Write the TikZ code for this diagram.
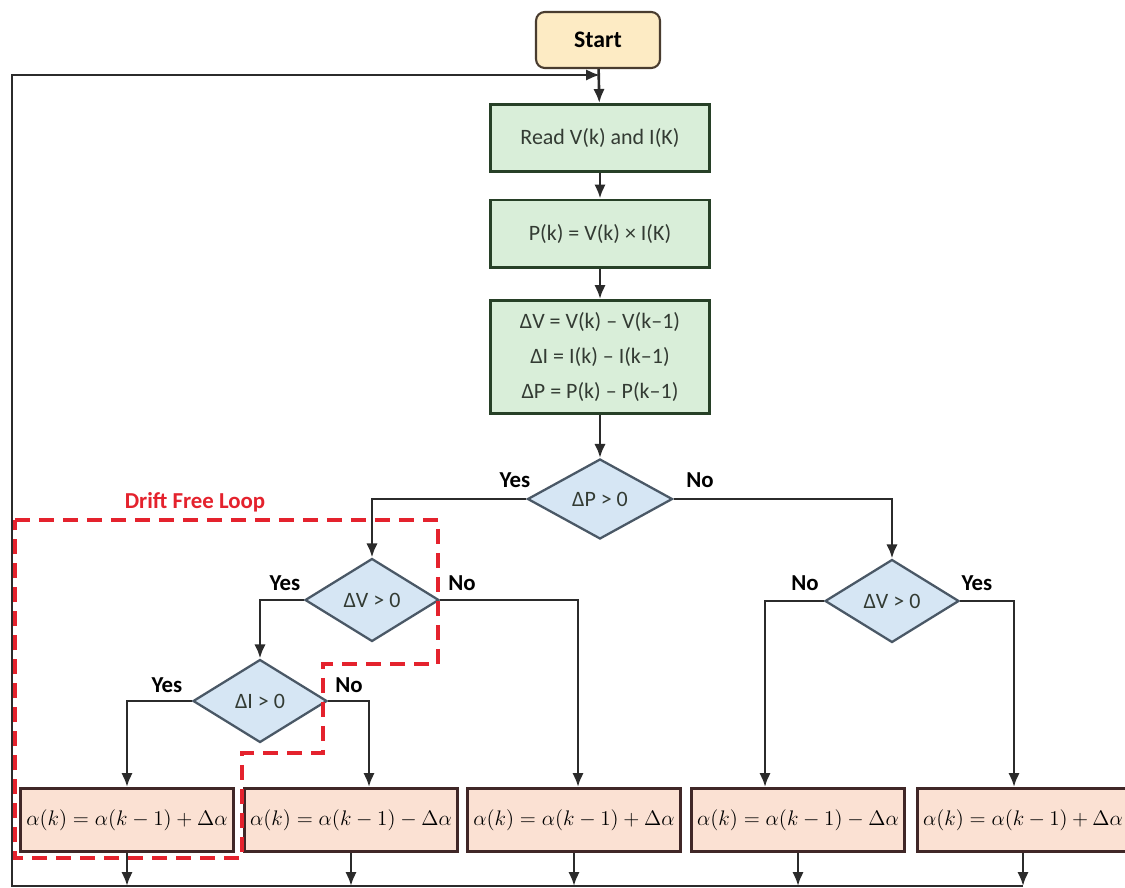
\documentclass[tikz,border=0pt]{standalone}
\usepackage{fontspec}
\setmainfont{Carlito}
\usepackage{tikz}
\usetikzlibrary{calc,arrows.meta,shapes.geometric}
\definecolor{startfill}{HTML}{FDEBC4}
\definecolor{greenfill}{HTML}{D9EED9}
\definecolor{bluefill}{HTML}{D6E6F4}
\definecolor{peachfill}{HTML}{FBE1D3}
\definecolor{driftred}{HTML}{E4222D}
\definecolor{linegray}{HTML}{2B2B2B}
\definecolor{diagray}{HTML}{4A5866}
\definecolor{txtgray}{HTML}{333B33}
\tikzset{
  flow/.style={draw=linegray,line width=1.5pt,-{Latex[length=2.8mm,width=2.3mm]}},
  startbox/.style={draw=linegray!80!brown,line width=1.2pt,rounded corners=5pt,fill=startfill,
    minimum width=2.48cm,minimum height=1.12cm,font=\fontsize{13.5}{16}\selectfont\bfseries},
  greenbox/.style={draw=linegray!90!green,line width=1.7pt,fill=greenfill,text=txtgray,
    minimum width=4.4cm,font=\fontsize{12.5}{20}\selectfont,align=center},
  decision/.style={diamond,draw=diagray,line width=1.3pt,fill=bluefill,inner sep=0pt,
    text=txtgray,minimum width=2.68cm,minimum height=1.66cm,font=\fontsize{12.5}{15}\selectfont},
  alphabox/.style={draw=linegray!90!red,line width=1.7pt,fill=peachfill,
    minimum width=4.24cm,minimum height=1.26cm,font=\fontsize{11.5}{14}\selectfont},
  lbl/.style={font=\fontsize{13}{15}\selectfont\bfseries},
  drift/.style={draw=driftred,line width=2pt,dash pattern=on 0.3cm off 0.18cm}
}

\begin{document}
\begin{tikzpicture}[x=0.02cm,y=-0.02cm]
  \useasboundingbox (0,0) rectangle (1125,888);
  % main column
  \node[startbox] (start) at (598,40) {Start};
  \node[greenbox,minimum height=1.34cm] (read) at (600,138) {Read V(k) and I(K)};
  \node[greenbox,minimum height=1.36cm] (power) at (600,234) {P(k) = V(k) × I(K)};
  \node[greenbox,minimum height=2.26cm] (delta) at (600,357)
    {ΔV = V(k) – V(k–1)\\ ΔI = I(k) – I(k–1)\\ ΔP = P(k) – P(k–1)};
  \coordinate (join) at (600,75);
  \draw[flow] (start) -- (read);
  \draw[flow] (read) -- (power);
  \draw[flow] (power) -- (delta);
  % decisions
  \node[decision,minimum width=2.9cm,minimum height=1.6cm] (dP) at (600,499) {ΔP > 0};
  \node[decision] (dV1) at (372,600) {ΔV > 0};
  \node[decision] (dI) at (260,701) {ΔI > 0};
  \node[decision] (dV2) at (892,601) {ΔV > 0};
  \draw[flow] (delta) -- (dP);
  \node[lbl] (yP) at (515,480) {Yes};
  \node[lbl] (nP) at (700,480) {No};
  \node[lbl] (yV1) at (285,583) {Yes};
  \node[lbl] (nV1) at (462,583) {No};
  \node[lbl] (yI) at (167,685) {Yes};
  \node[lbl] (nI) at (349,685) {No};
  \node[lbl] (nV2) at (805,583) {No};
  \node[lbl] (yV2) at (977,583) {Yes};
  % update boxes
  \node[alphabox] (b1) at (127,820) {$\alpha(k) = \alpha(k-1) + \Delta\alpha$};
  \node[alphabox] (b2) at (351,820) {$\alpha(k) = \alpha(k-1) - \Delta\alpha$};
  \node[alphabox] (b3) at (574,820) {$\alpha(k) = \alpha(k-1) + \Delta\alpha$};
  \node[alphabox] (b4) at (798,820) {$\alpha(k) = \alpha(k-1) - \Delta\alpha$};
  \node[alphabox,text width=4cm] (b5) at (1023,820) {$\alpha(k) = \alpha(k-1) + \Delta\alpha$};
  % branches
  \draw[flow] (dP.west) -| (dV1);
  \draw[flow] (dP.east) -| (dV2);
  \draw[flow] (dV1.west) -| (dI);
  \draw[flow] (dV1.east) -| ($(b3.north)+(4,0)$);
  \draw[flow] (dI.west) -| (b1.north);
  \draw[flow] (dI.east) -| ($(b2.north)+(18,0)$);
  \draw[flow] (dV2.west) -| ($(b4.north)+(-33,0)$);
  \draw[flow] (dV2.east) -| ($(b5.north)+(-9,0)$);
  % feedback loop
  \coordinate (base) at (12,886);
  \foreach \b in {b1,b2,b3,b4,b5}
    \draw[flow] (\b.south) -- (\b.south |- base);
  \draw[flow] (b5.south |- base) -- (base) |- (join);
  % drift free region
  \draw[drift] (15,520) -- (438,520) -- (438,664) -- (323,664) -- (323,753)
    -- (242,753) -- (242,858) -- (15,858) -- cycle;
  \node[lbl,text=driftred] (driftlbl) at (195,502) {Drift Free Loop};
\end{tikzpicture}
\end{document}
